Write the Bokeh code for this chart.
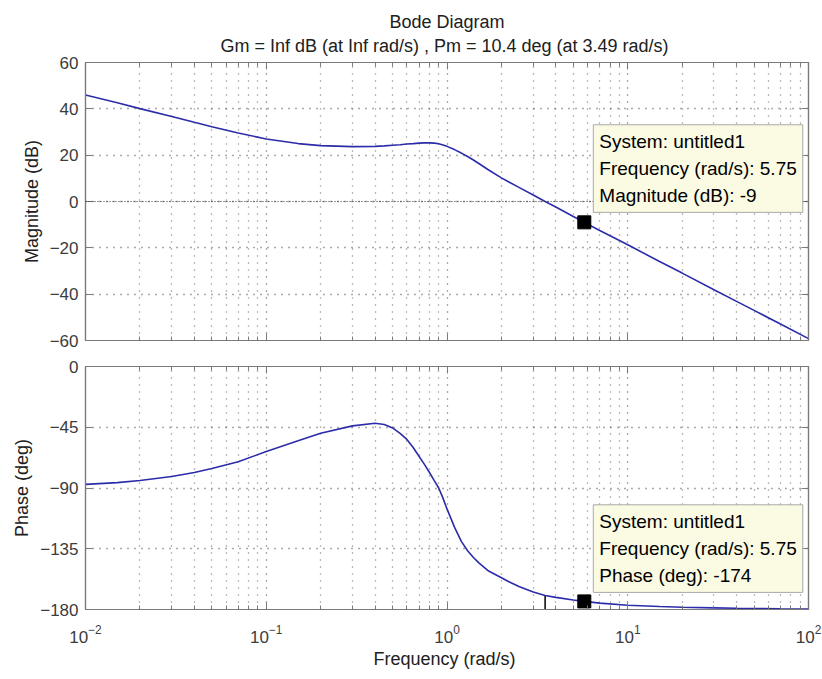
from bokeh.plotting import figure
from bokeh.models import (LogAxis, LinearAxis, FixedTicker, Title, Label, Span,
                          CustomJSTickFormatter)
from bokeh.layouts import column
from bokeh.embed import file_html
from bokeh.resources import INLINE

# Open-loop frequency response (rad/s, dB, deg)
freq = [0.01, 0.015, 0.02, 0.03, 0.04, 0.05, 0.07, 0.1, 0.15, 0.2, 0.3, 0.4,
        0.45, 0.5, 0.55, 0.6, 0.65, 0.7, 0.75, 0.8, 0.85, 0.9, 0.95, 1.0, 1.1,
        1.2, 1.3, 1.4, 1.5, 1.7, 2.0, 2.2, 2.5, 3.0, 3.49, 4.0, 5.0, 5.75, 7.0,
        10.0, 15.0, 20.0, 30.0, 40.0, 50.0, 70.0, 100.0]
mag_db = [46.0, 42.6, 40.1, 36.7, 34.2, 32.3, 29.6, 27.0, 25.0, 24.1, 23.7,
          23.8, 24.0, 24.3, 24.5, 24.8, 25.0, 25.2, 25.3, 25.3, 25.2, 24.9,
          24.4, 23.8, 22.4, 20.9, 19.4, 17.9, 16.4, 13.6, 10.2, 8.4, 6.1, 2.8,
          0.0, -2.4, -6.5, -9.0, -12.5, -18.7, -25.9, -30.9, -38.1, -43.1,
          -47.0, -52.9, -59.2]
phase_deg = [-87.3, -86.0, -84.5, -81.5, -78.5, -75.5, -70.5, -63.0, -55.0,
             -49.5, -44.0, -42.0, -43.0, -45.5, -49.5, -54.0, -60.0, -66.5,
             -72.5, -78.5, -84.5, -90.0, -97.5, -105.5, -119.0, -129.5, -136.5,
             -141.5, -145.5, -151.5, -156.5, -159.5, -163.0, -167.0, -169.6,
             -171.0, -173.0, -174.0, -175.3, -176.8, -177.8, -178.3, -178.8,
             -179.1, -179.3, -179.5, -179.6]

# Stability margins
gm_text = "Inf"
pm_freq = 3.49
pm_deg = 10.4

# Data tip
tip_system = "untitled1"
tip_freq = 5.75
tip_mag = -9
tip_phase = -174

x_ticks = [0.01, 0.1, 1, 10, 100]
x_minor = [k * 10.0 ** e for e in range(-2, 2) for k in range(2, 10)]
mag_ticks = [-60, -40, -20, 0, 20, 40, 60]
phase_ticks = [-180, -135, -90, -45, 0]

FONT = "Liberation Sans"
LINE_COLOR = "#2c2caa"
AXIS_GRAY = "#7a7a7a"
blank = CustomJSTickFormatter(code="return ''")


def style_axis(ax, show_labels):
    ax.axis_line_color = AXIS_GRAY
    ax.axis_line_width = 1.2
    ax.major_tick_in = 7
    ax.major_tick_out = 0
    ax.minor_tick_in = 4
    ax.minor_tick_out = 0
    ax.major_tick_line_color = AXIS_GRAY
    ax.minor_tick_line_color = AXIS_GRAY
    ax.major_label_text_font = FONT
    ax.major_label_text_font_size = "17px"
    ax.major_label_text_color = "#3c3c3c"
    ax.major_label_standoff = 7
    ax.axis_label_text_font = FONT
    ax.axis_label_text_font_size = "18px"
    ax.axis_label_text_font_style = "normal"
    ax.axis_label_text_color = "#202020"
    if not show_labels:
        ax.formatter = blank


def make_panel(y_range, y_ticks, frame_h, top, bottom, y_label, x_label=None):
    p = figure(x_axis_type="log", x_range=(1e-2, 1e2), y_range=y_range,
               frame_width=723, frame_height=frame_h,
               min_border_left=85, min_border_right=14,
               min_border_top=top, min_border_bottom=bottom,
               output_backend="svg", toolbar_location=None,
               background_fill_color="white", border_fill_color="white",
               outline_line_color=AXIS_GRAY, outline_line_width=1.2)
    xt = FixedTicker(ticks=x_ticks, minor_ticks=x_minor)
    yt = FixedTicker(ticks=y_ticks)
    p.xaxis.ticker = xt
    p.yaxis.ticker = yt
    p.add_layout(LogAxis(ticker=xt), "above")
    p.add_layout(LinearAxis(ticker=yt), "right")
    for ax in p.above + p.right:
        style_axis(ax, False)
    style_axis(p.below[0], x_label is not None)
    style_axis(p.left[0], True)
    p.left[0].axis_label = y_label
    p.left[0].axis_label_standoff = 5
    p.left[0].minor_tick_line_color = None
    p.right[0].minor_tick_line_color = None
    if x_label is not None:
        p.below[0].axis_label = x_label
        p.below[0].axis_label_standoff = 3
        p.below[0].major_label_standoff = 15

    p.xgrid.grid_line_color = "#555555"
    p.xgrid.grid_line_dash = "1 6"
    p.xgrid.grid_line_width = 1.3
    p.xgrid.minor_grid_line_color = "#777777"
    p.xgrid.minor_grid_line_dash = "1 6"
    p.xgrid.minor_grid_line_width = 1.3
    p.ygrid.grid_line_color = "#555555"
    p.ygrid.grid_line_dash = "1 6"
    p.ygrid.grid_line_width = 1.3
    return p


top = make_panel((-60, 60), mag_ticks, 278, 62, 12, "Magnitude (dB)")
# leave a little more room between the frame and the two-line title
top.above[0].major_label_standoff = 11
title_text = ("Bode Diagram\n"
              f"Gm = {gm_text} dB (at {gm_text} rad/s) ,  Pm = {pm_deg} deg (at {pm_freq} rad/s)")
top.add_layout(Title(text=title_text, align="center", text_align="center",
                     text_font=FONT, text_font_size="18px",
                     text_font_style="normal", text_color="#202020",
                     text_line_height=1.2, standoff=14), "above")
top.add_layout(Span(location=0, dimension="width", line_color="#333333",
                    line_dash="1 2", line_width=1.2))
top.line(freq, mag_db, line_color=LINE_COLOR, line_width=1.6)
top.scatter([tip_freq], [tip_mag], marker="square", size=13, color="black")
top.add_layout(Label(x=tip_freq, y=tip_mag, x_offset=9, y_offset=10, anchor="bottom_left",
                     text=f"System: {tip_system}\nFrequency (rad/s): {tip_freq}\nMagnitude (dB): {tip_mag}",
                     text_font=FONT, text_font_size="19px", text_color="black",
                     text_line_height=1.3, padding=6,
                     background_fill_color="#fbfbe3", border_line_color="#a8a8a8",
                     border_line_width=1))

bottom = make_panel((-180, 0), phase_ticks, 243, 14, 70, "Phase (deg)",
                    x_label="Frequency  (rad/s)")
bottom.segment(x0=[pm_freq], y0=[-180], x1=[pm_freq], y1=[-180 + pm_deg],
               line_color="black", line_width=1.5)
bottom.line(freq, phase_deg, line_color=LINE_COLOR, line_width=1.6)
bottom.scatter([tip_freq], [tip_phase], marker="square", size=13, color="black")
bottom.add_layout(Label(x=tip_freq, y=tip_phase, x_offset=9, y_offset=9, anchor="bottom_left",
                        text=f"System: {tip_system}\nFrequency (rad/s): {tip_freq}\nPhase (deg): {tip_phase}",
                        text_font=FONT, text_font_size="19px", text_color="black",
                        text_line_height=1.3, padding=6,
                        background_fill_color="#fbfbe3", border_line_color="#a8a8a8",
                        border_line_width=1))

layout = column(top, bottom, spacing=0)
open("out.html", "w").write(file_html(layout, INLINE))
